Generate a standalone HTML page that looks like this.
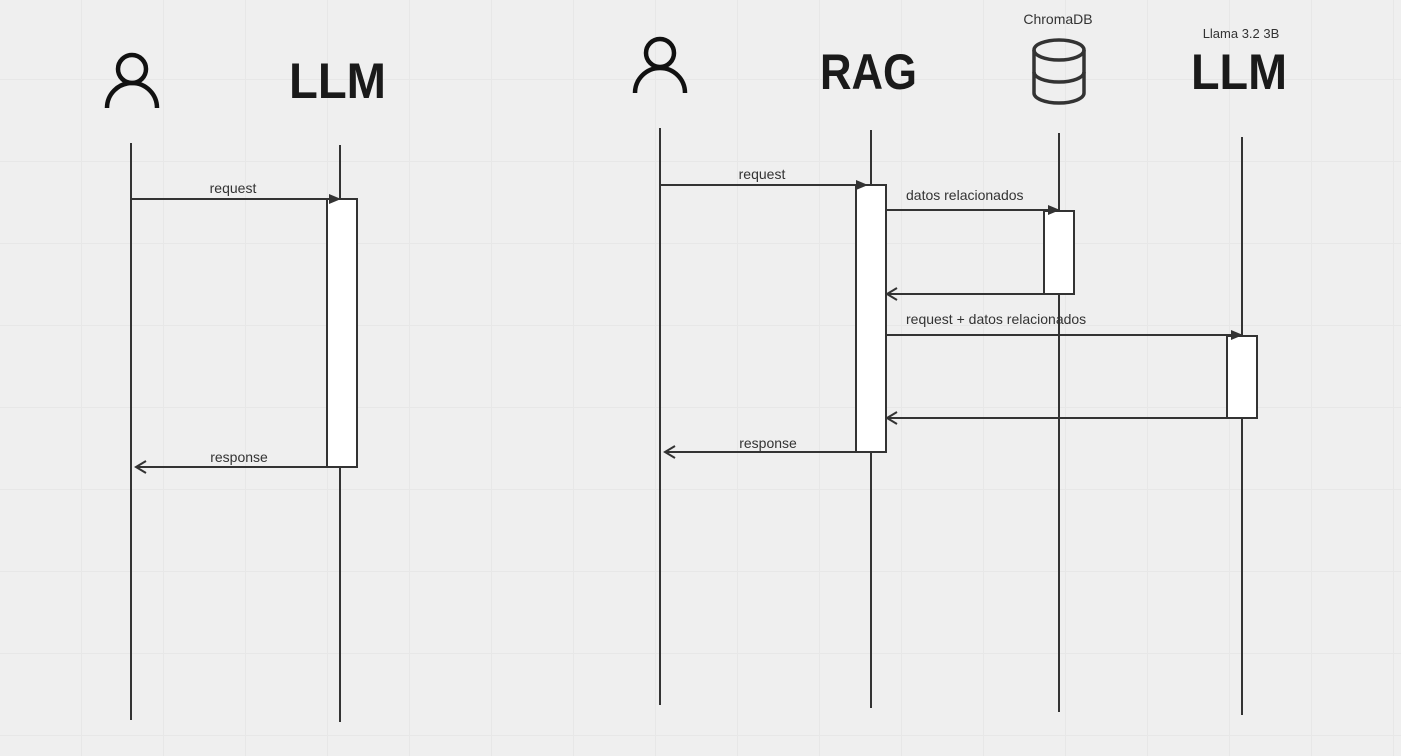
<!DOCTYPE html>
<html><head><style>
html,body{margin:0;padding:0;background:#efefef;}
svg{display:block;}
text{font-family:"Liberation Sans",sans-serif;}
</style></head><body>
<svg width="1401" height="756" viewBox="0 0 1401 756" xmlns="http://www.w3.org/2000/svg">
<defs>
<pattern id="g" width="82" height="82" patternUnits="userSpaceOnUse" x="0" y="-2">
<path d="M82 0V82M0 82H82" stroke="#e7e7e7" stroke-width="2" fill="none"/>
</pattern>
<marker id="f" markerWidth="12" markerHeight="10" refX="11" refY="5" orient="auto" markerUnits="userSpaceOnUse">
<path d="M0 0L12 5L0 10Z" fill="#333"/></marker>
<marker id="o" markerWidth="13" markerHeight="14" refX="11" refY="7" orient="auto" markerUnits="userSpaceOnUse">
<path d="M1 1L11 7L1 13" fill="none" stroke="#333" stroke-width="2"/></marker>
</defs>
<rect width="1401" height="756" fill="url(#g)"/>
<g stroke="#333" stroke-width="2" fill="none">
<circle cx="132" cy="69" r="14" stroke="#111" stroke-width="4.5"/>
<path d="M107 108 A25 25 0 0 1 157 108" stroke="#111" stroke-width="4.5"/>
<circle cx="660" cy="53" r="14" stroke="#111" stroke-width="4.5"/>
<path d="M635 93 A25 25 0 0 1 685 93" stroke="#111" stroke-width="4.5"/>
<g stroke="#333" stroke-width="3.5">
<ellipse cx="1059" cy="50" rx="25" ry="10"/>
<path d="M1034 50V93A25 10 0 0 0 1084 93V50"/>
<path d="M1034 72A25 10 0 0 0 1084 72"/>
</g>
<line x1="131" y1="143" x2="131" y2="720"/>
<line x1="340" y1="145" x2="340" y2="722"/>
<line x1="660" y1="128" x2="660" y2="705"/>
<line x1="871" y1="130" x2="871" y2="708"/>
<line x1="1059" y1="133" x2="1059" y2="712"/>
<line x1="1242" y1="137" x2="1242" y2="715"/>
<rect x="327" y="199" width="30" height="268" fill="#fff"/>
<rect x="856" y="185" width="30" height="267" fill="#fff"/>
<rect x="1044" y="211" width="30" height="83" fill="#fff"/>
<rect x="1227" y="336" width="30" height="82" fill="#fff"/>
<line x1="131" y1="199" x2="340" y2="199" marker-end="url(#f)"/>
<line x1="327" y1="467" x2="136" y2="467" marker-end="url(#o)"/>
<line x1="660" y1="185" x2="867" y2="185" marker-end="url(#f)"/>
<line x1="886" y1="210" x2="1059" y2="210" marker-end="url(#f)"/>
<line x1="1044" y1="294" x2="887" y2="294" marker-end="url(#o)"/>
<line x1="886" y1="335" x2="1242" y2="335" marker-end="url(#f)"/>
<line x1="1227" y1="418" x2="887" y2="418" marker-end="url(#o)"/>
<line x1="856" y1="452" x2="665" y2="452" marker-end="url(#o)"/>
</g>
<g fill="#1a1a1a" font-weight="bold" font-size="50">
<text x="289" y="98" textLength="97" lengthAdjust="spacingAndGlyphs">LLM</text>
<text x="820" y="89" textLength="97" lengthAdjust="spacingAndGlyphs">RAG</text>
<text x="1191" y="89" textLength="96" lengthAdjust="spacingAndGlyphs">LLM</text>
</g>
<g fill="#333" font-size="14">
<text x="233" y="193" text-anchor="middle">request</text>
<text x="239" y="462" text-anchor="middle">response</text>
<text x="762" y="179" text-anchor="middle">request</text>
<text x="906" y="200">datos relacionados</text>
<text x="906" y="324">request + datos relacionados</text>
<text x="768" y="448" text-anchor="middle">response</text>
<text x="1058" y="24" text-anchor="middle">ChromaDB</text>
<text x="1241" y="38" text-anchor="middle" font-size="13">Llama 3.2 3B</text>
</g>
</svg>
</body></html>
